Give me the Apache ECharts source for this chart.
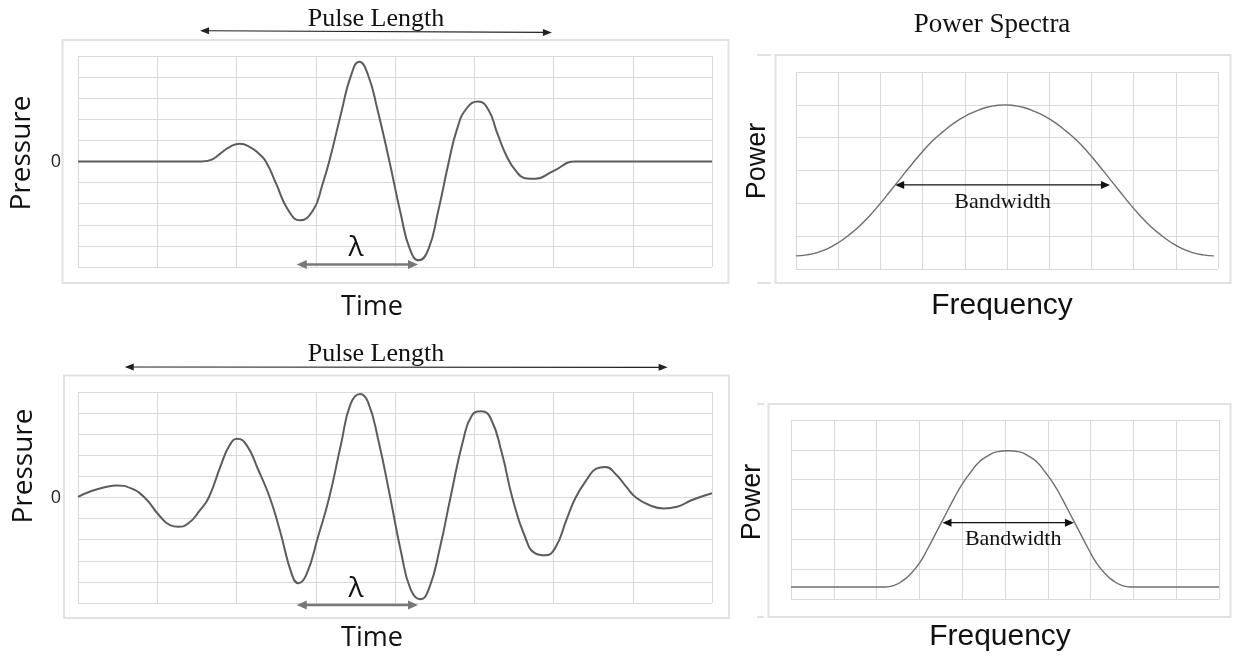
<!DOCTYPE html>
<html>
<head>
<meta charset="utf-8">
<title>Pulse length and bandwidth</title>
<script src="https://cdn.jsdelivr.net/npm/echarts@6/dist/echarts.min.js"></script>
<style>
  html, body { margin: 0; padding: 0; background: #fff; }
  #chart { width: 1233px; height: 660px; }
</style>
</head>
<body>
<div id="chart"></div>
<script>
// time in grid columns (0..8), pressure in grid rows (-5..5)
const shortPulseT = [0, 1.3, 1.56, 1.95, 2.04, 2.18, 2.28, 2.37, 2.50, 2.65, 2.80, 2.97, 3.08, 3.17, 3.32, 3.44, 3.55,
  3.66, 3.78, 3.93, 4.07, 4.19, 4.30, 4.42, 4.54, 4.68, 4.78, 4.90, 5.05, 5.18, 5.29, 5.41, 5.53, 5.64, 5.77,
  5.99, 6.28, 8];
const shortPulseP = [0, 0, 0, 0.76, 0.84, 0.66, 0.38, 0, -1.05, -2.29, -2.79, -2.29, -1.15, 0, 2.29, 4.02, 4.73,
  4.1, 2.44, 0, -2.44, -4.18, -4.68, -4.18, -2.44, 0, 1.5, 2.5, 2.84, 2.44, 1.34, 0.24, -0.47, -0.79, -0.82,
  -0.47, 0, 0];

const longPulseT = [0, 0.17, 0.35, 0.49, 0.67, 0.84, 1.02, 1.16, 1.27, 1.40, 1.53, 1.65, 1.80, 1.91, 2.01,
  2.13, 2.27, 2.42, 2.55, 2.70, 2.78, 2.88, 3.03, 3.17, 3.32, 3.44, 3.56, 3.66, 3.79, 3.94, 4.08, 4.20, 4.32,
  4.43, 4.57, 4.70, 4.86, 4.97, 5.09, 5.21, 5.35, 5.48, 5.64, 5.77, 5.89, 6.02, 6.17, 6.28, 6.43, 6.54, 6.65,
  6.78, 6.92, 7.04, 7.21, 7.39, 7.56, 7.74, 8];
const longPulseP = [0.03, 0.31, 0.5, 0.57, 0.43, 0, -0.83, -1.31, -1.39, -1.2, -0.65, 0, 1.5, 2.45, 2.79,
  2.47, 1.35, 0, -1.6, -3.67, -4.06, -3.67, -1.85, 0, 2.55, 4.44, 4.91, 4.52, 2.71, 0, -2.65, -4.38, -4.82,
  -4.31, -2.33, 0, 2.71, 3.89, 4.09, 3.73, 2.08, 0, -1.86, -2.65, -2.74, -2.4, -0.99, 0, 0.9, 1.37, 1.45,
  1.13, 0.5, 0, -0.36, -0.52, -0.44, -0.13, 0.2];

// frequency in grid columns (0..10), power in grid rows (0..6)
const wideBandF = [0, 0.25, 0.5, 0.75, 1, 1.25, 1.5, 1.75, 2, 2.25, 2.5, 2.75, 3, 3.25, 3.5, 3.75, 4, 4.25, 4.5, 4.75,
  4.95, 5.15, 5.4, 5.65, 5.9, 6.15, 6.4, 6.65, 6.9, 7.15, 7.4, 7.65, 7.9, 8.15, 8.4, 8.65, 8.9, 9.15, 9.4, 9.65, 9.9];
const wideBandP = [0.4, 0.43, 0.5, 0.62, 0.8, 1.03, 1.3, 1.63, 2.0, 2.4, 2.8, 3.2, 3.58, 3.92, 4.2, 4.45, 4.65, 4.8, 4.92, 4.98,
  5.0, 4.98, 4.92, 4.8, 4.65, 4.45, 4.2, 3.92, 3.58, 3.2, 2.8, 2.4, 2.0, 1.63, 1.3, 1.03, 0.8, 0.62, 0.5, 0.43, 0.4];

const narrowBandF = [0, 1, 2.2, 2.4, 2.6, 2.8, 3.0, 3.2, 3.4, 3.6, 3.8, 4.0, 4.2, 4.4, 4.6, 4.8, 5.07,
  5.34, 5.54, 5.74, 5.94, 6.14, 6.34, 6.54, 6.74, 6.94, 7.14, 7.34, 7.54, 7.74, 7.94, 9, 10];
const narrowBandP = [0.4, 0.4, 0.4, 0.45, 0.6, 0.85, 1.2, 1.7, 2.25, 2.8, 3.35, 3.85, 4.25, 4.6, 4.8, 4.93, 4.97,
  4.93, 4.8, 4.6, 4.25, 3.85, 3.35, 2.8, 2.25, 1.7, 1.2, 0.85, 0.6, 0.45, 0.4, 0.4, 0.4];

// annotation spans, in axis units
const pulseLengthShort = [1.54, 5.98];
const pulseLengthLong = [0.59, 7.44];
const lambdaShort = [2.76, 4.29];
const lambdaLong = [2.76, 4.29];
const bandwidthWide = [2.35, 7.44, 2.56];
const bandwidthNarrow = [3.54, 6.61, 2.56];

const sans = '"Open Sans", sans-serif';
const arial = '"Liberation Sans", Arial, sans-serif';
const serif = '"Liberation Serif", "Times New Roman", serif';
const gridColor = '#d9d9d9';
const boxColor = '#e2e2e2';

const pair = (xs, ys) => xs.map((x, i) => [x, ys[i]]);

function makeX(gridIndex, max) {
  return {
    gridIndex, type: 'value', min: 0, max, interval: 1,
    axisLine: { show: false }, axisTick: { show: false }, axisLabel: { show: false },
    splitLine: { show: true, lineStyle: { color: gridColor, width: 1 } }
  };
}
function makeY(gridIndex, min, max, zeroLabel) {
  return {
    gridIndex, type: 'value', min, max, interval: 1,
    axisLine: { show: false }, axisTick: { show: false },
    axisLabel: {
      show: zeroLabel, margin: 17, fontFamily: sans, fontSize: 18, color: '#222',
      formatter: v => (v === 0 ? '0' : '')
    },
    splitLine: { show: true, lineStyle: { color: gridColor, width: 1 } }
  };
}

const chart = echarts.init(document.getElementById('chart'));
chart.setOption({
  animation: false,
  backgroundColor: '#fff',
  grid: [
    { left: 78, top: 56, width: 634, height: 211 },
    { left: 78, top: 392, width: 634, height: 211 },
    { left: 796, top: 72, width: 422, height: 197 },
    { left: 791, top: 420, width: 428, height: 179 }
  ],
  xAxis: [makeX(0, 8), makeX(1, 8), makeX(2, 10), makeX(3, 10)],
  yAxis: [makeY(0, -5, 5, true), makeY(1, -5, 5, true), makeY(2, 0, 6, false), makeY(3, 0, 6, false)],
  series: [
    { type: 'line', xAxisIndex: 0, yAxisIndex: 0, data: pair(shortPulseT, shortPulseP),
      smooth: true, showSymbol: false, lineStyle: { color: '#5c5c5c', width: 2 } },
    { type: 'line', xAxisIndex: 1, yAxisIndex: 1, data: pair(longPulseT, longPulseP),
      smooth: true, showSymbol: false, lineStyle: { color: '#5c5c5c', width: 2 } },
    { type: 'line', xAxisIndex: 2, yAxisIndex: 2, data: pair(wideBandF, wideBandP),
      smooth: true, showSymbol: false, lineStyle: { color: '#6e6e6e', width: 1.4 } },
    { type: 'line', xAxisIndex: 3, yAxisIndex: 3, data: pair(narrowBandF, narrowBandP),
      smooth: true, showSymbol: false, lineStyle: { color: '#6e6e6e', width: 1.4 } }
  ]
});

// double headed arrow between two pixel points
function arrow(x1, y1, x2, y2, color, width, headLen, headW) {
  const len = Math.hypot(x2 - x1, y2 - y1);
  const ux = (x2 - x1) / len, uy = (y2 - y1) / len;
  const px = -uy, py = ux;
  const head = (tx, ty, dir) => {
    const bx = tx - dir * ux * headLen, by = ty - dir * uy * headLen;
    return { type: 'polygon', shape: { points: [[tx, ty], [bx + px * headW / 2, by + py * headW / 2], [bx - px * headW / 2, by - py * headW / 2]] },
      style: { fill: color } };
  };
  return [
    { type: 'line', shape: { x1: x1 + ux * headLen * 0.8, y1: y1 + uy * headLen * 0.8, x2: x2 - ux * headLen * 0.8, y2: y2 - uy * headLen * 0.8 },
      style: { stroke: color, lineWidth: width } },
    head(x1, y1, -1),
    head(x2, y2, 1)
  ];
}
function label(text, x, y, font, rotation) {
  return { type: 'text', x, y, rotation: rotation || 0,
    style: { text, x: 0, y: 0, font, fill: '#111', align: 'center', verticalAlign: 'middle', textAlign: 'center', textVerticalAlign: 'middle' } };
}
function box(x, y, w, h) {
  return { type: 'rect', silent: true, z: -1, shape: { x, y, width: w, height: h }, style: { fill: null, stroke: boxColor, lineWidth: 2 } };
}
function dash(x1, x2, y) {
  return { type: 'line', z: -1, shape: { x1, y1: y, x2, y2: y }, style: { stroke: boxColor, lineWidth: 2 } };
}
const px = (g, x, y) => chart.convertToPixel({ gridIndex: g }, [x, y]);
const up = Math.PI / 2;

const els = [
  box(62.5, 40, 666, 243),
  box(64, 375.5, 665, 242.5),
  box(775.5, 55, 455, 228),
  box(768.5, 404, 462, 213),
  dash(757, 771, 55), dash(757, 771, 283),
  dash(757, 764, 404), dash(757, 764, 617),
  label('Pulse Length', 376, 19, '26px ' + serif),
  label('Pulse Length', 376, 354, '26px ' + serif),
  label('Power Spectra', 992, 25, '27px ' + serif),
  label('λ', 356, 248, '28px ' + sans),
  label('λ', 356, 589, '28px ' + sans),
  // axis titles
  label('Pressure', 22, 153, '28px ' + sans, up),
  label('Pressure', 24, 466, '28px ' + sans, up),
  label('Time', 372, 307, '27px ' + sans),
  label('Time', 372, 638, '27px ' + sans),
  label('Power', 758, 161, '27px ' + arial, up),
  label('Power', 753, 502, '27px ' + arial, up),
  label('Frequency', 1002, 306, '30px ' + arial),
  label('Frequency', 1000, 637, '30px ' + arial)
];

// pulse length arrows above the plots
let a = px(0, pulseLengthShort[0], 0)[0], b = px(0, pulseLengthShort[1], 0)[0];
els.push(...arrow(a, 30.7, b, 32.5, '#222', 1.2, 9, 7));
a = px(1, pulseLengthLong[0], 0)[0]; b = px(1, pulseLengthLong[1], 0)[0];
els.push(...arrow(a, 367, b, 367.3, '#222', 1.2, 9, 7));

// wavelength arrows along the bottom of the plots
a = px(0, lambdaShort[0], 0)[0]; b = px(0, lambdaShort[1], 0)[0];
els.push(...arrow(a, 264.5, b, 264.5, '#777', 2.6, 10, 9));
a = px(1, lambdaLong[0], 0)[0]; b = px(1, lambdaLong[1], 0)[0];
els.push(...arrow(a, 605, b, 605, '#777', 2.6, 10, 9));

// bandwidth arrows
let p1 = px(2, bandwidthWide[0], bandwidthWide[2]), p2 = px(2, bandwidthWide[1], bandwidthWide[2]);
els.push(...arrow(p1[0], p1[1], p2[0], p2[1], '#111', 1.2, 9, 8));
els.push(label('Bandwidth', (p1[0] + p2[0]) / 2, p1[1] + 17, '22px ' + serif));
p1 = px(3, bandwidthNarrow[0], bandwidthNarrow[2]); p2 = px(3, bandwidthNarrow[1], bandwidthNarrow[2]);
els.push(...arrow(p1[0], p1[1], p2[0], p2[1], '#111', 1.2, 9, 8));
els.push(label('Bandwidth', (p1[0] + p2[0]) / 2 + 5, p1[1] + 17, '22px ' + serif));

chart.setOption({ graphic: { elements: els } });
</script>
</body>
</html>
